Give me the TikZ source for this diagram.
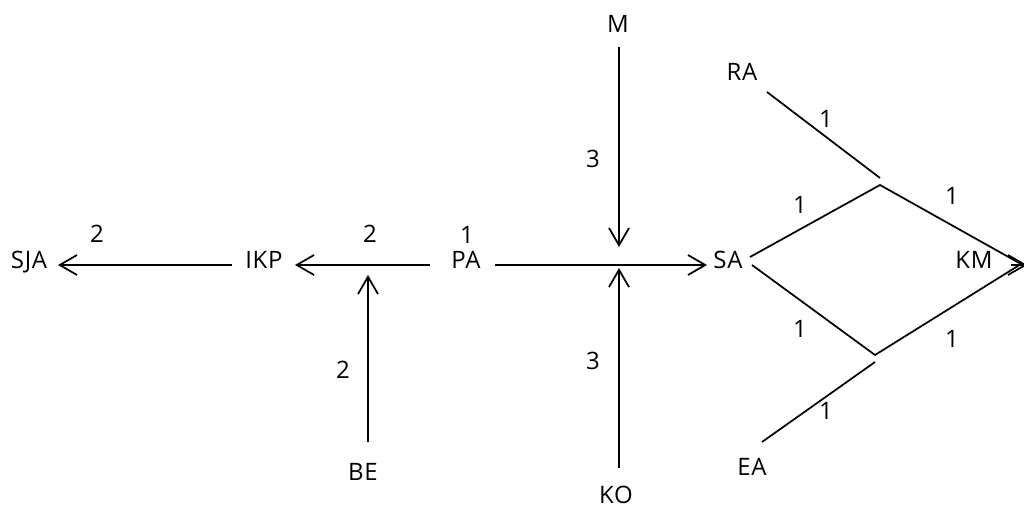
\documentclass[tikz,border=0pt]{standalone}
\usepackage{fontspec}
\setmainfont{Open Sans}[LetterSpace=3]
\usetikzlibrary{arrows.meta}
\begin{document}
\begin{tikzpicture}[x=0.75pt,y=-0.75pt,
  lbl/.style={anchor=base,inner sep=0pt,font=\fontsize{18}{20}\selectfont},
  ln/.style={line width=1.3pt},
  arr/.style={ln,-{Straight Barb[length=13pt,width=15pt]}}]
\useasboundingbox (0,0) rectangle (1024,507);
% nodes
\node[lbl] (SJA) at (29,268) {SJA};
\node[lbl] (IKP) at (264,268) {IKP};
\node[lbl] (PA)  at (466,268) {PA};
\node[lbl] (SA)  at (728,268) {SA};
\node[lbl] (KM)  at (974,268) {KM};
\node[lbl] (M)   at (618,32)  {M};
\node[lbl] (KO)  at (616,503) {KO};
\node[lbl] (BE)  at (363,480) {BE};
\node[lbl] (RA)  at (742,80)  {RA};
\node[lbl] (EA)  at (752,475) {EA};
% weight labels
\node[lbl] (w1) at (97,242)  {2};
\node[lbl] (w2) at (370,242) {2};
\node[lbl] (w3) at (467,243) {1};
\node[lbl] (w4) at (593,167) {3};
\node[lbl] (w5) at (593,369) {3};
\node[lbl] (w6) at (343,378) {2};
\node[lbl] (w7) at (826,127) {1};
\node[lbl] (w8) at (800,213) {1};
\node[lbl] (w9) at (952,204) {1};
\node[lbl] (w10) at (800,337) {1};
\node[lbl] (w11) at (952,347) {1};
\node[lbl] (w12) at (826,419) {1};
% connector end points
\coordinate (SJAe) at (58,265);
\coordinate (IKPw) at (232,265);
\coordinate (IKPe) at (295,265);
\coordinate (PAw)  at (430,265);
\coordinate (PAe)  at (495,265);
\coordinate (SAw)  at (707,265);
\coordinate (SAne) at (750,257);
\coordinate (SAse) at (752,265);
\coordinate (Ms)   at (619,47);
\coordinate (Mt)   at (619,247);
\coordinate (KOn)  at (619,468);
\coordinate (KOt)  at (619,268);
\coordinate (BEn)  at (368,442);
\coordinate (BEt)  at (368,275);
\coordinate (RAs)  at (767,92);
\coordinate (RAt)  at (880,178);
\coordinate (EAn)  at (762,442);
\coordinate (EAt)  at (875,362);
\coordinate (ju)   at (880,185);
\coordinate (jl)   at (875,355);
\coordinate (KMt)  at (1021,264);
\coordinate (KMs)  at (1011,265);
\coordinate (KMtip) at (1027,265);
% connectors
\draw[arr] (IKPw) -- (SJAe);
\draw[arr] (PAw) -- (IKPe);
\draw[arr] (BEn) -- (BEt);
\draw[arr] (PAe) -- (SAw);
\draw[arr] (Ms) -- (Mt);
\draw[arr] (KOn) -- (KOt);
\draw[ln] (SAne) -- (ju) -- (KMt);
\draw[ln] (SAse) -- (jl) -- (KMt);
\draw[ln] (RAs) -- (RAt);
\draw[ln] (EAn) -- (EAt);
\draw[arr] (KMs) -- (KMtip);
\end{tikzpicture}
\end{document}
